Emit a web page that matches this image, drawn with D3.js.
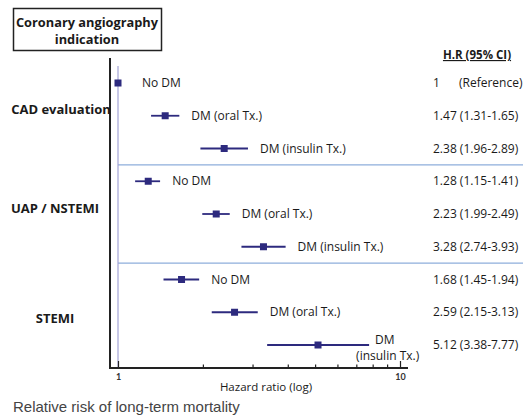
<!DOCTYPE html>
<html>
<head>
<meta charset="utf-8">
<script src="https://cdn.jsdelivr.net/npm/d3@7"></script>
<style>
  body { margin: 0; background: #fff; }
  text { font-family: "Open Sans", Lato, sans-serif; }
</style>
</head>
<body>
<svg id="chart" width="523" height="416"></svg>
<script>
// data
const groups = ["CAD evaluation", "UAP / NSTEMI", "STEMI"]
const subgroups = ["No DM", "DM (oral Tx.)", "DM (insulin Tx.)"]
const hr = [1, 1.47, 2.38, 1.28, 2.23, 3.28, 1.68, 2.59, 5.12]
const lo = [1, 1.31, 1.96, 1.15, 1.99, 2.74, 1.45, 2.15, 3.38]
const hi = [1, 1.65, 2.89, 1.41, 2.49, 3.93, 1.94, 3.13, 7.77]
const hrText = ["1", "1.47 (1.31-1.65)", "2.38 (1.96-2.89)",
                "1.28 (1.15-1.41)", "2.23 (1.99-2.49)", "3.28 (2.74-3.93)",
                "1.68 (1.45-1.94)", "2.59 (2.15-3.13)", "5.12 (3.38-7.77)"]
const tickValues = [1, 2, 3, 4, 5, 6, 7, 8, 9, 10]
const tickLabels = ["1", "10"]

const rows = hr.map((v, i) => ({
    id: i,
    group: groups[Math.floor(i / 3)],
    label: subgroups[i % 3],
    hr: v, lo: lo[i], hi: hi[i], text: hrText[i]
}))

const navy = "#2d2a7e"
const ink = "#1a1a1a"
const svg = d3.select("#chart")

let x = d3.scaleLog().domain([1, 10]).range([118, 400])
let y = d3.scalePoint().domain(rows.map(d => d.id)).range([83, 345])
const axisY = 368

// title box
svg.append("rect")
    .attr("x", 13.5).attr("y", 8.5).attr("width", 148).attr("height", 42)
    .attr("fill", "none").attr("stroke", "#222").attr("stroke-width", 1.5)
svg.append("text")
    .attr("x", 87).attr("y", 26.5).attr("text-anchor", "middle")
    .attr("font-size", 12.8).attr("font-weight", "bold").attr("fill", ink)
    .text("Coronary angiography")
svg.append("text")
    .attr("x", 87).attr("y", 43.5).attr("text-anchor", "middle")
    .attr("font-size", 12.8).attr("font-weight", "bold").attr("fill", ink)
    .text("indication")

// header
svg.append("text")
    .attr("x", 477).attr("y", 59).attr("text-anchor", "middle")
    .attr("font-size", 11.5).attr("font-weight", "bold").attr("fill", ink)
    .attr("text-decoration", "underline")
    .text("H.R (95% CI)")

// group separators
const sepY = [2.5, 5.5].map(k => (y(Math.floor(k)) + y(Math.ceil(k))) / 2)
svg.selectAll(".sep")
    .data(sepY)
    .enter().append("line")
    .attr("class", "sep")
    .attr("x1", x(1)).attr("x2", 523)
    .attr("y1", d => d).attr("y2", d => d)
    .attr("stroke", "#8eaedb").attr("stroke-width", 1.2)

// reference line at HR = 1
svg.append("line")
    .attr("x1", x(1)).attr("x2", x(1))
    .attr("y1", 66).attr("y2", axisY)
    .attr("stroke", "#a3a3d6").attr("stroke-width", 1.2)

// axes frame
svg.append("line")
    .attr("x1", 110).attr("x2", 110).attr("y1", 58).attr("y2", axisY + 1)
    .attr("stroke", "#222").attr("stroke-width", 2)
svg.append("line")
    .attr("x1", 109).attr("x2", 408).attr("y1", axisY).attr("y2", axisY)
    .attr("stroke", "#222").attr("stroke-width", 2)

let xAxis = svg.append("g")
    .attr("transform", "translate(0," + axisY + ")")
    .call(d3.axisBottom(x)
        .tickValues(tickValues)
        .tickSize(0)
        .tickPadding(6)
        .tickFormat(d => tickLabels.includes(String(d)) ? String(d) : ""))
xAxis.select(".domain").remove()
xAxis.selectAll(".tick line")
    .attr("y2", d => tickLabels.includes(String(d)) ? -7 : -3.5)
    .attr("stroke", "#222").attr("stroke-width", 1.2)
xAxis.selectAll(".tick text")
    .attr("font-size", 9).attr("font-weight", "bold").attr("fill", "#333")
    .style("font-family", "Lato, sans-serif")

svg.append("text")
    .attr("x", 266).attr("y", 391).attr("text-anchor", "middle")
    .attr("font-size", 11.5).attr("fill", ink)
    .text("Hazard ratio (log)")

// group labels
const groupX = [61, 55, 55]
const groupY = [109, 208, 318]
svg.selectAll(".grp")
    .data(groups)
    .enter().append("text")
    .attr("class", "grp")
    .attr("x", (d, i) => groupX[i])
    .attr("y", (d, i) => groupY[i] + 4.5)
    .attr("text-anchor", "middle")
    .attr("font-size", 13).attr("font-weight", "bold").attr("fill", ink)
    .text(d => d)

// confidence intervals
svg.selectAll(".ci")
    .data(rows.filter(d => d.lo !== d.hi))
    .enter().append("line")
    .attr("class", "ci")
    .attr("x1", d => x(d.lo)).attr("x2", d => x(d.hi))
    .attr("y1", d => y(d.id)).attr("y2", d => y(d.id))
    .attr("stroke", navy).attr("stroke-width", 1.8)

// point estimates
const sq = 7
svg.selectAll(".dot")
    .data(rows)
    .enter().append("rect")
    .attr("class", "dot")
    .attr("x", d => x(d.hr) - sq / 2).attr("y", d => y(d.id) - sq / 2)
    .attr("width", sq).attr("height", sq)
    .attr("fill", navy)

// row labels
svg.selectAll(".lbl")
    .data(rows)
    .enter().append("text")
    .attr("class", "lbl")
    .attr("x", d => d.id === 8 ? x(d.hi) + 6 : Math.max(x(d.hi) + 12, x(d.hr) + 24))
    .attr("y", d => y(d.id) + 4)
    .attr("font-size", 12).attr("fill", ink)
    .each(function(d) {
        let t = d3.select(this)
        if (d.id === 8) {
            t.attr("y", y(d.id) - 1)
            t.append("tspan").text("DM")
            t.append("tspan").attr("x", +t.attr("x") - 19).attr("dy", 16).text("(insulin Tx.)")
        } else {
            t.text(d.label)
        }
    })

// HR column
svg.selectAll(".hr")
    .data(rows)
    .enter().append("text")
    .attr("class", "hr")
    .attr("x", 433)
    .attr("y", d => y(d.id) + 4)
    .attr("font-size", 12).attr("fill", ink)
    .text(d => d.text)
svg.append("text")
    .attr("x", 459).attr("y", y(0) + 4)
    .attr("font-size", 12).attr("fill", ink)
    .text("(Reference)")

// caption
svg.append("text")
    .attr("x", 13).attr("y", 412)
    .attr("font-size", 15).attr("fill", "#444")
    .style("font-family", "'Liberation Sans', Arial, sans-serif")
    .text("Relative risk of long-term mortality")
</script>
</body>
</html>
